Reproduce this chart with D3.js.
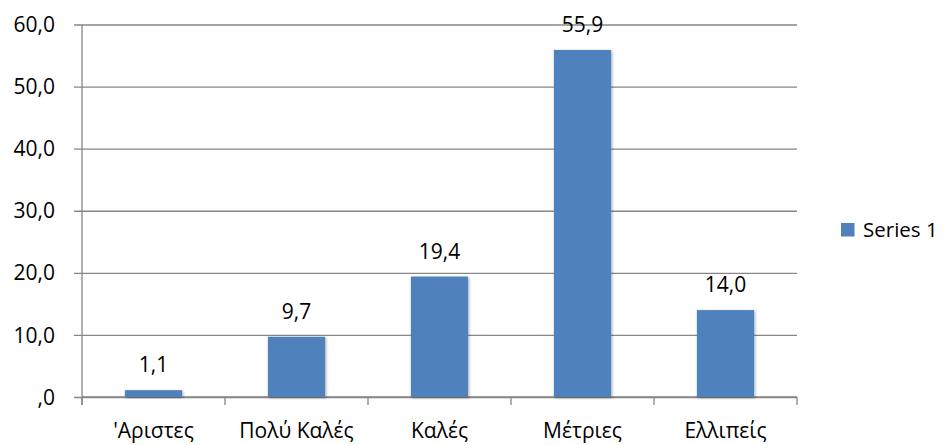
<!DOCTYPE html>
<html>
<head>
<meta charset="utf-8">
<script src="https://cdn.jsdelivr.net/npm/d3@7"></script>
<style>
  html, body { margin: 0; padding: 0; background: #fff; overflow: hidden; }
  svg text { font-family: "Open Sans", "Noto Sans", sans-serif; fill: #000; }
</style>
</head>
<body>
<svg id="chart" width="946" height="445"></svg>
<script>
// Grade distribution (percent)
const categories = ["'Αριστες", "Πολύ Καλές", "Καλές", "Μέτριες", "Ελλιπείς"];
const values = [1.1, 9.7, 19.4, 55.9, 14.0];
const yTicks = [0, 10, 20, 30, 40, 50, 60];
const seriesName = "Series 1";

const svg = d3.select("#chart");
const margin = { left: 82, right: 149, top: 24.5, bottom: 48 };
const W = 946, H = 445;
const x0 = margin.left, x1 = W - margin.right;
const y0 = H - margin.bottom, y1 = margin.top;
const fontSize = 21;

const x = d3.scaleBand().domain(categories).range([x0, x1]).paddingInner(0.6).paddingOuter(0.3);
const xCat = d3.scaleBand().domain(categories).range([x0, x1]);
const y = d3.scaleLinear().domain([0, 60]).range([y0, y1]);

const fmt = v => {
  const s = v.toFixed(1).replace(".", ",");
  return s.startsWith("0,") ? s.slice(1) : s;
};

// soft shadow around the bars
const defs = svg.append("defs");
const f = defs.append("filter").attr("id", "shadow")
  .attr("x", "-20%").attr("y", "-20%").attr("width", "140%").attr("height", "140%");
f.append("feGaussianBlur").attr("in", "SourceAlpha").attr("stdDeviation", 1.5).attr("result", "b");
f.append("feOffset").attr("in", "b").attr("dx", 1).attr("dy", 1).attr("result", "o");
f.append("feComponentTransfer").attr("in", "o").attr("result", "t")
  .append("feFuncA").attr("type", "linear").attr("slope", 0.35);
const m = f.append("feMerge");
m.append("feMergeNode").attr("in", "t");
m.append("feMergeNode").attr("in", "SourceGraphic");

const gridColor = "#868686";

// horizontal gridlines with tick stubs on the left
const yAxis = d3.axisLeft(y).tickValues(yTicks).tickSize(-(x1 - x0)).tickFormat(fmt).tickPadding(27);
const ga = svg.append("g").attr("transform", `translate(${x0},0)`).call(yAxis);
ga.select(".domain").remove();
ga.selectAll(".tick line").attr("x1", -8).attr("stroke", gridColor).attr("stroke-width", 1.3);
ga.selectAll(".tick text").attr("font-size", fontSize).attr("font-family", "'Open Sans', sans-serif")
  .attr("fill", "#000").attr("dy", "0.34em");

// vertical axis line
svg.append("line").attr("x1", x0).attr("x2", x0).attr("y1", y1).attr("y2", y0 + 8)
  .attr("stroke", gridColor).attr("stroke-width", 1.3);

// category axis with boundary ticks
const bounds = categories.map(c => xCat(c)).concat([x1]);
svg.append("g").selectAll("line").data(bounds).join("line")
  .attr("x1", d => d).attr("x2", d => d).attr("y1", y0).attr("y2", y0 + 8)
  .attr("stroke", gridColor).attr("stroke-width", 1.3);
svg.append("line").attr("x1", x0).attr("x2", x1).attr("y1", y0).attr("y2", y0)
  .attr("stroke", gridColor).attr("stroke-width", 1.3);

svg.append("g").selectAll("text").data(categories).join("text")
  .attr("x", d => xCat(d) + xCat.bandwidth() / 2)
  .attr("y", 438)
  .attr("text-anchor", "middle")
  .attr("font-size", fontSize)
  .text(d => d);

// bars
svg.append("g").selectAll("rect").data(values).join("rect")
  .attr("x", (d, i) => x(categories[i]))
  .attr("width", x.bandwidth())
  .attr("y", d => y(d))
  .attr("height", d => y0 - y(d))
  .attr("fill", "#4f81bd")
  .attr("filter", "url(#shadow)");

// value labels
svg.append("g").selectAll("text").data(values).join("text")
  .attr("x", (d, i) => x(categories[i]) + x.bandwidth() / 2)
  .attr("y", d => y(d) - 18)
  .attr("text-anchor", "middle")
  .attr("font-size", fontSize)
  .text(d => fmt(d));

// legend
const lg = svg.append("g").attr("transform", "translate(841,223)");
lg.append("rect").attr("width", 13.5).attr("height", 13.5).attr("fill", "#4f81bd");
lg.append("text").attr("x", 22).attr("y", 14).attr("font-size", 20.5).text(seriesName);
</script>
</body>
</html>
